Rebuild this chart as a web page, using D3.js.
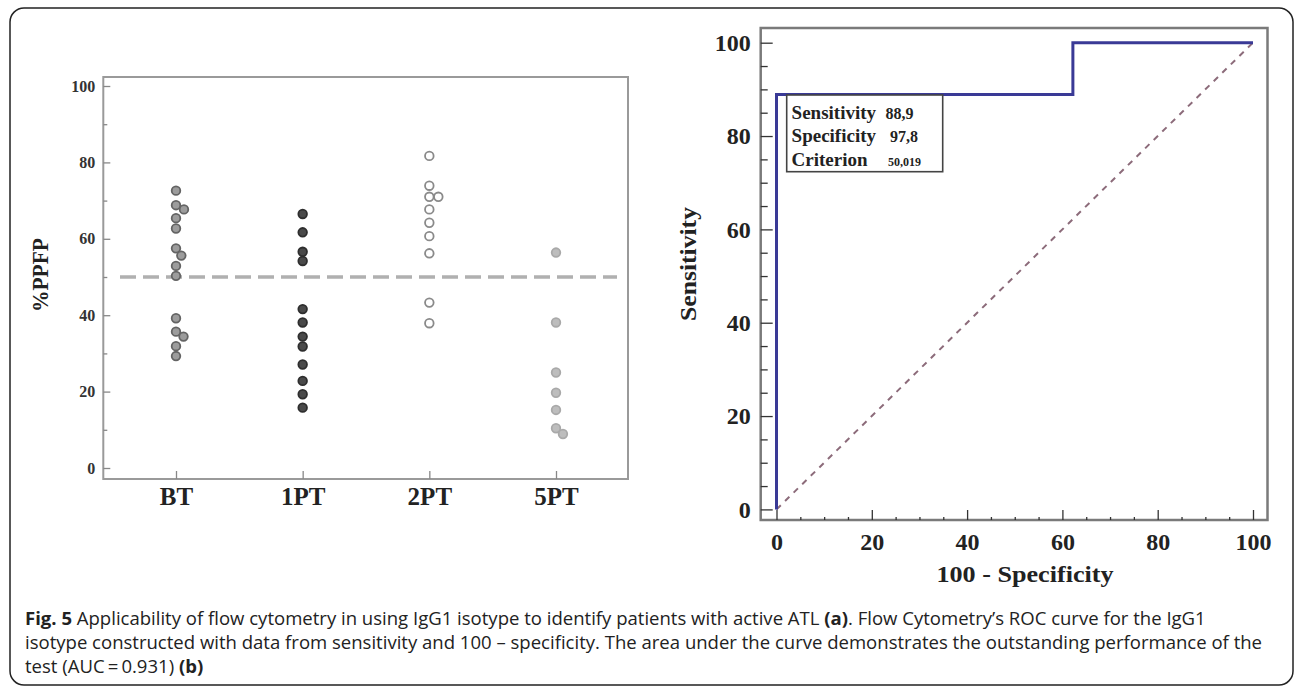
<!DOCTYPE html>
<html><head><meta charset="utf-8">
<script src="https://cdn.jsdelivr.net/npm/d3@7"></script>
<style>body{margin:0;background:#fff}svg{display:block}</style>
</head><body><svg id="c" width="1295" height="687"></svg>
<script>
// ---- data ----
const groups = ["BT", "1PT", "2PT", "5PT"];
const valuesBT  = [72.6, 68.8, 67.7, 65.4, 62.7, 57.5, 55.6, 52.9, 50.3, 39.2, 35.7, 34.4, 31.9, 29.3];
const values1PT = [66.5, 61.7, 56.6, 54.2, 41.6, 38.1, 34.4, 31.8, 27.1, 22.8, 19.3, 15.8];
const values2PT = [81.7, 73.9, 71.0, 71.0, 67.7, 64.2, 60.7, 56.2, 43.3, 37.9];
const values5PT = [56.4, 38.1, 25.0, 19.7, 15.2, 10.4, 8.9];
const cutoff = 50;
const leftMajorTicks = [0, 20, 40, 60, 80, 100];
const leftMinorTicks = [10, 30, 50, 70, 90];

const rocX = [0, 0, 62.2, 62.2, 100];
const rocY = [0, 88.9, 88.9, 100, 100];
const diagX = [0, 100];
const diagY = [0, 100];
const rocMajorTicks = [0, 20, 40, 60, 80, 100];
const rocMinorTicks = [5, 10, 15, 25, 30, 35, 45, 50, 55, 65, 70, 75, 85, 90, 95];
const infoLabels = ["Sensitivity", "Specificity", "Criterion"];
const infoValues = ["88,9", "97,8", "50,019"];

const captionLines = [
  [["Fig. 5", true], [" Applicability of flow cytometry in using IgG1 isotype to identify patients with active ATL ", false], ["(a)", true], [". Flow Cytometry\u2019s ROC curve for the IgG1", false]],
  [["isotype constructed with data from sensitivity and 100 \u2013 specificity. The area under the curve demonstrates the outstanding performance of the", false]],
  [["test (AUC\u2009=\u20090.931) ", false], ["(b)", true]]
];

// ---- setup ----
const svg = d3.select("#c");
const serif = "'Liberation Serif','Times New Roman',serif";
svg.append("rect").attr("x", 10).attr("y", 8).attr("width", 1283).attr("height", 677)
  .attr("rx", 14).attr("fill", "#fff").attr("stroke", "#222").attr("stroke-width", 1.5);

// ================= Left panel =================
const L = {left: 103.3, right: 628, top: 77, bottom: 479};
const lx = d3.scalePoint().domain(groups).range([176, 556]);
const ly = d3.scaleLinear().domain([0, 100]).range([468, 86]);

svg.append("rect").attr("x", L.left).attr("y", L.top).attr("width", L.right - L.left).attr("height", L.bottom - L.top)
  .attr("fill", "none").attr("stroke", "#9a9a9a").attr("stroke-width", 2);

function styleAxis(g, color, size, weight, fill) {
  g.select(".domain").remove();
  g.selectAll(".tick line").attr("stroke", color).attr("stroke-width", 1.3);
  g.selectAll(".tick text").attr("font-family", serif).attr("font-size", size)
    .attr("font-weight", weight).attr("fill", fill);
}

svg.append("g").attr("transform", `translate(${L.left},0)`)
  .call(d3.axisLeft(ly).tickValues(leftMinorTicks).tickSize(-4).tickFormat(""))
  .call(g => styleAxis(g, "#888", 16, "bold", "#333"));
svg.append("g").attr("transform", `translate(${L.left},0)`)
  .call(d3.axisLeft(ly).tickValues(leftMajorTicks).tickSize(-7).tickPadding(8))
  .call(g => styleAxis(g, "#888", 16, "bold", "#333"));
svg.append("g").attr("transform", `translate(0,${L.bottom})`)
  .call(d3.axisBottom(lx).tickSize(-8).tickPadding(8))
  .call(g => styleAxis(g, "#888", 25, "bold", "#222"));

svg.append("text").attr("transform", "translate(48,275) rotate(-90)")
  .attr("text-anchor", "middle").attr("font-family", serif).attr("font-size", 24)
  .attr("font-weight", "bold").attr("fill", "#222").attr("textLength", 74)
  .attr("lengthAdjust", "spacingAndGlyphs").text("%PPFP");

// cutoff dashed line
svg.append("line").attr("x1", 120).attr("x2", 617).attr("y1", ly(cutoff)).attr("y2", ly(cutoff))
  .attr("stroke", "#b0b0b0").attr("stroke-width", 3.5).attr("stroke-dasharray", "16,7");

// beeswarm dodge
function dodge(vals, d) {
  const placed = [];
  return vals.map(v => {
    const y = ly(v);
    const cands = [0];
    placed.forEach(p => {
      const dy = Math.abs(p.y - y);
      if (dy < d) { const dx = Math.sqrt(d * d - dy * dy); cands.push(p.x + dx, p.x - dx); }
    });
    cands.sort((a, b) => Math.abs(a) - Math.abs(b) || b - a);
    const x = cands.find(c => placed.every(p => (p.x - c) ** 2 + (p.y - y) ** 2 >= d * d - 1e-6));
    placed.push({x, y});
    return {v, dx: x};
  });
}
const groupValues = {"BT": valuesBT, "1PT": values1PT, "2PT": values2PT, "5PT": values5PT};
const groupStyle = {
  "BT":  {fill: "#9c9c9c", stroke: "#646464"},
  "1PT": {fill: "#4a4a4a", stroke: "#2e2e2e"},
  "2PT": {fill: "#ffffff", stroke: "#8a8a8a"},
  "5PT": {fill: "#bdbdbd", stroke: "#a9a9a9"}
};
groups.forEach(gname => {
  const pts = dodge(groupValues[gname], 9);
  svg.append("g").selectAll("circle").data(pts).join("circle")
    .attr("cx", d => lx(gname) + d.dx).attr("cy", d => ly(d.v)).attr("r", 4.3)
    .attr("fill", groupStyle[gname].fill).attr("stroke", groupStyle[gname].stroke).attr("stroke-width", 1.8);
});

// ================= Right panel =================
const R = {left: 760.7, right: 1267.5, top: 28, bottom: 520};
const rx = d3.scaleLinear().domain([0, 100]).range([776.5, 1253]);
const ry = d3.scaleLinear().domain([0, 100]).range([509.4, 42.7]);

svg.append("rect").attr("x", R.left).attr("y", R.top).attr("width", R.right - R.left).attr("height", R.bottom - R.top)
  .attr("fill", "none").attr("stroke", "#7a7a7a").attr("stroke-width", 2.5);

svg.append("g").attr("transform", `translate(${R.left},0)`)
  .call(d3.axisLeft(ry).tickValues(rocMinorTicks).tickSize(-7).tickFormat(""))
  .call(g => styleAxis(g, "#333", 24, "bold", "#222"));
svg.append("g").attr("transform", `translate(${R.left},0)`)
  .call(d3.axisLeft(ry).tickValues(rocMajorTicks).tickSize(-12).tickPadding(10))
  .call(g => styleAxis(g, "#333", 24, "bold", "#222"));
svg.append("g").attr("transform", `translate(0,${R.bottom})`)
  .call(d3.axisBottom(rx).tickValues(rocMinorTicks).tickSize(-3).tickFormat(""))
  .call(g => styleAxis(g, "#333", 24, "bold", "#222"));
svg.append("g").attr("transform", `translate(0,${R.bottom})`)
  .call(d3.axisBottom(rx).tickValues(rocMajorTicks).tickSize(-10).tickPadding(13))
  .call(g => styleAxis(g, "#333", 24, "bold", "#222"));

svg.append("text").attr("transform", "translate(696,264) rotate(-90)")
  .attr("text-anchor", "middle").attr("font-family", serif).attr("font-size", 24)
  .attr("font-weight", "bold").attr("fill", "#222").attr("textLength", 114)
  .attr("lengthAdjust", "spacingAndGlyphs").text("Sensitivity");
svg.append("text").attr("x", 1025).attr("y", 582)
  .attr("text-anchor", "middle").attr("font-family", serif).attr("font-size", 24)
  .attr("font-weight", "bold").attr("fill", "#222").attr("textLength", 177)
  .attr("lengthAdjust", "spacingAndGlyphs").text("100 - Specificity");

// diagonal reference
const diagData = diagX.map((x, i) => [x, diagY[i]]);
svg.append("path").datum(diagData)
  .attr("d", d3.line().x(d => rx(d[0])).y(d => ry(d[1])))
  .attr("fill", "none").attr("stroke", "#8c6b7a").attr("stroke-width", 2).attr("stroke-dasharray", "6,6");

// ROC curve
const rocData = rocX.map((x, i) => [x, rocY[i]]);
svg.append("path").datum(rocData)
  .attr("d", d3.line().x(d => rx(d[0])).y(d => ry(d[1])))
  .attr("fill", "none").attr("stroke", "#3a3a96").attr("stroke-width", 3);

// info box
svg.append("rect").attr("x", 786.7).attr("y", 95).attr("width", 156).attr("height", 76.7)
  .attr("fill", "#fff").attr("stroke", "#444").attr("stroke-width", 1.6);
const infoSizes = [16, 16, 12];
const infoValX = [885.6, 890, 888];
infoLabels.forEach((lab, i) => {
  const y = 119 + i * 23.3;
  svg.append("text").attr("x", 791.6).attr("y", y).attr("font-family", serif).attr("font-size", 19)
    .attr("font-weight", "bold").attr("fill", "#222").text(lab);
  svg.append("text").attr("x", infoValX[i]).attr("y", y).attr("font-family", serif).attr("font-size", infoSizes[i])
    .attr("font-weight", "bold").attr("fill", "#222").text(infoValues[i]);
});

// ================= Caption =================
const cap = svg.append("g").attr("font-family", "'Open Sans','Noto Sans',sans-serif").attr("font-size", 16).attr("fill", "#222");
const capTexts = captionLines.map((line, i) => {
  const t = cap.append("text").attr("x", 25).attr("y", 625 + i * 24);
  line.forEach(([s, b]) => t.append("tspan").attr("font-weight", b ? "bold" : "normal").text(s));
  return t;
});
// fit font size so the second (full) line spans the caption width
const natural = capTexts[1].node().getComputedTextLength();
const fs = 16 * 1238 / natural;
cap.attr("font-size", fs);
</script>
</body></html>
